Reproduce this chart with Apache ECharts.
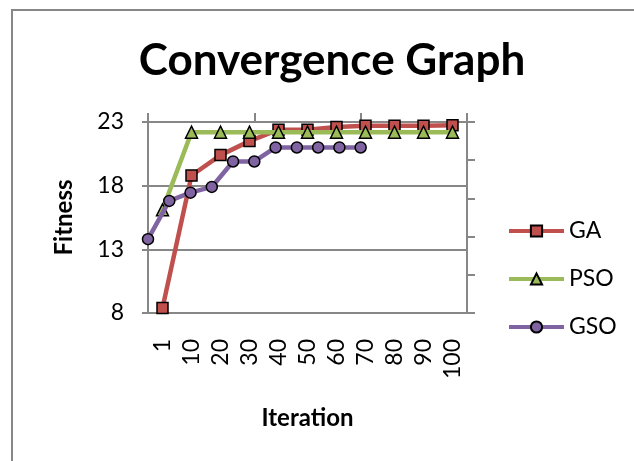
<!DOCTYPE html>
<html>
<head>
<meta charset="utf-8">
<script src="https://cdn.jsdelivr.net/npm/echarts@6/dist/echarts.min.js"></script>
<style>html,body{margin:0;padding:0;background:#fff}#c{width:634px;height:461px}</style>
</head>
<body>
<div id="c"></div>
<script>
// Data
var iterations = ['1', '10', '20', '30', '40', '50', '60', '70', '80', '90', '100'];
var gsoSteps = ['1','2','3','4','5','6','7','8','9','10','11','12','13','14','15','16'];
var gaValues = [8.4, 18.8, 20.4, 21.5, 22.4, 22.4, 22.6, 22.7, 22.7, 22.7, 22.75];
var psoValues = [16.1, 22.2, 22.2, 22.2, 22.2, 22.2, 22.2, 22.2, 22.2, 22.2, 22.2];
var gsoValues = [13.8, 16.8, 17.45, 17.9, 19.9, 19.9, 21.0, 21.0, 21.0, 21.0, 21.0];
var yTicks = [8, 13, 18, 23];

var FONT = 'Lato';
var GRAY = '#878787';
var chart = echarts.init(document.getElementById('c'), null, {renderer: 'canvas'});
chart.setOption({
  animation: false,
  backgroundColor: '#fff',
  title: {
    text: 'Convergence Graph',
    left: 327, top: 34, textAlign: 'center',
    textStyle: {fontFamily: FONT, fontWeight: 'bold', fontSize: 44, color: '#000'}
  },
  graphic: [{
    type: 'rect', shape: {x: 12, y: 10, width: 700, height: 500},
    style: {fill: 'none', stroke: GRAY, lineWidth: 2}, silent: true
  }],
  legend: {
    orient: 'vertical', left: 507, top: 218, padding: 0,
    itemWidth: 55, itemHeight: 14, itemGap: 22,
    lineStyle: {width: 4},
    textStyle: {fontFamily: FONT, fontSize: 23, color: '#000', lineHeight: 26},
    data: ['GA', 'PSO', 'GSO']
  },
  grid: {left: 148, right: 167, top: 122, bottom: 148, containLabel: false},
  xAxis: [{
    type: 'category', data: iterations, boundaryGap: true, position: 'bottom',
    name: 'Iteration', nameLocation: 'middle', nameGap: 93,
    nameTextStyle: {fontFamily: FONT, fontWeight: 'bold', fontSize: 24, color: '#000'},
    axisLine: {show: true, lineStyle: {color: GRAY, width: 2}},
    axisTick: {show: true, inside: true, length: 8, interval: function (i) { return i === 10; }, lineStyle: {color: GRAY, width: 2}},
    axisLabel: {rotate: 90, margin: 26, fontFamily: FONT, fontSize: 23, color: '#000', interval: 0},
    splitLine: {show: false}
  }, {
    type: 'category', data: gsoSteps, boundaryGap: false, position: 'top',
    axisLine: {show: true, lineStyle: {color: GRAY, width: 2}},
    axisTick: {show: true, inside: false, length: 9, interval: 4, lineStyle: {color: GRAY, width: 2}},
    axisLabel: {show: false},
    splitLine: {show: false}
  }],
  yAxis: [{
    type: 'value', min: yTicks[0], max: yTicks[yTicks.length - 1], interval: 5,
    name: 'Fitness', nameLocation: 'middle', nameGap: 72, nameRotate: 90,
    nameTextStyle: {fontFamily: FONT, fontWeight: 'bold', fontSize: 24, color: '#000'},
    axisLine: {show: true, lineStyle: {color: GRAY, width: 2}},
    axisTick: {show: true, inside: false, length: 6, lineStyle: {color: GRAY, width: 2}},
    axisLabel: {margin: 24, fontFamily: FONT, fontSize: 23, color: '#000'},
    splitLine: {show: true, lineStyle: {color: GRAY, width: 2}}
  }, {
    type: 'value', min: 0, max: 5, interval: 1, position: 'right',
    axisLine: {show: true, lineStyle: {color: GRAY, width: 2}},
    axisTick: {show: true, inside: false, length: 8, lineStyle: {color: GRAY, width: 2}},
    axisLabel: {show: false},
    splitLine: {show: false}
  }],
  series: [{
    name: 'GA', type: 'line', data: gaValues, xAxisIndex: 0, yAxisIndex: 0,
    symbol: 'rect', symbolSize: 11,
    lineStyle: {color: '#C0504D', width: 4.5},
    itemStyle: {color: '#C0504D', borderColor: '#000', borderWidth: 1.5},
    z: 3
  }, {
    name: 'PSO', type: 'line', data: psoValues, xAxisIndex: 0, yAxisIndex: 0,
    symbol: 'triangle', symbolSize: 12,
    lineStyle: {color: '#9BBB59', width: 4.5},
    itemStyle: {color: '#9BBB59', borderColor: '#000', borderWidth: 1.5},
    z: 4
  }, {
    name: 'GSO', type: 'line', data: gsoValues, xAxisIndex: 1, yAxisIndex: 0,
    symbol: 'circle', symbolSize: 11,
    lineStyle: {color: '#8064A2', width: 4.5},
    itemStyle: {color: '#8064A2', borderColor: '#000', borderWidth: 1.5},
    z: 5
  }]
});
</script>
</body>
</html>
